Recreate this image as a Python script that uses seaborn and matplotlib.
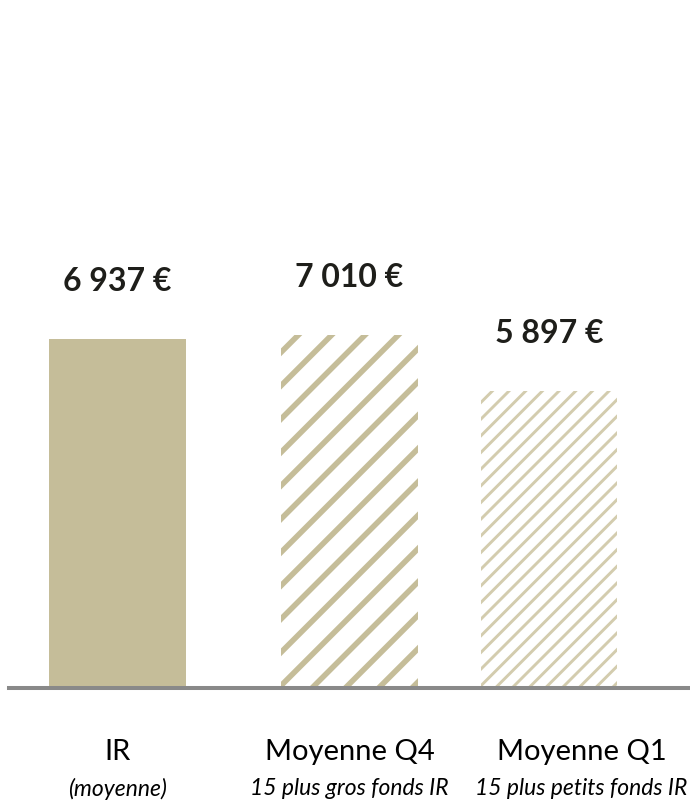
import matplotlib
matplotlib.use("Agg")
import matplotlib.pyplot as plt
import seaborn as sns

# Average values per group
categories = ["IR", "Moyenne Q4", "Moyenne Q1"]
subtitles = ["(moyenne)", "15 plus gros fonds IR", "15 plus petits fonds IR"]
values = [6937, 7010, 5897]
value_labels = ["6 937 €", "7 010 €", "5 897 €"]

# Layout: bar centres and label centres along the x axis
bar_pos = [0.0, 1.0, 1.86]
label_pos = [0.0, 1.0, 2.0]
bar_width = 0.59

TAN = "#c5bd99"
sns.set_theme(style="white")
plt.rcParams["font.family"] = ["Lato", "DejaVu Sans"]

fig = plt.figure(figsize=(6.9, 8.0), dpi=100)
ax = fig.add_axes([9 / 690, 112 / 800, 681 / 690, 688 / 800])

min_gap = min(b - a for a, b in zip(bar_pos[:-1], bar_pos[1:]))
sns.barplot(x=bar_pos, y=values, native_scale=True, width=bar_width / min_gap,
            color=TAN, saturation=1, ax=ax, errorbar=None)

styles = [
    dict(face=TAN, hatch=None, lw=0, col=TAN),
    dict(face="white", hatch="/", lw=4.0, col=TAN),
    dict(face="white", hatch="//", lw=2.1, col="#d3ccae"),
]
for patch, st in zip(ax.patches, styles):
    patch.set_facecolor(st["face"])
    patch.set_edgecolor(st["col"])
    patch.set_linewidth(0)
    if st["hatch"]:
        patch.set_hatch(st["hatch"])
        if hasattr(patch, "set_hatch_linewidth"):
            patch.set_hatch_linewidth(st["lw"])

# Value labels above bars
for x, v, lab in zip(bar_pos, values, value_labels):
    ax.annotate(lab, xy=(x, v), xytext=(0, 41.5), textcoords="offset points",
                ha="center", va="center", fontsize=23, fontweight="bold",
                color="#1e1e1a")

# Category labels below the axis
for x, cat, sub in zip(label_pos, categories, subtitles):
    ax.annotate(cat, xy=(x, 0), xycoords=("data", "axes fraction"),
                xytext=(0, -46), textcoords="offset points",
                ha="center", va="center", fontsize=21, color="black")
    ax.annotate(sub, xy=(x, 0), xycoords=("data", "axes fraction"),
                xytext=(0, -72.5), textcoords="offset points",
                ha="center", va="center", fontsize=16.5, style="italic",
                color="black")

ax.set_xlim(-0.468, 2.468)
ax.set_ylim(0, 13675)
ax.set_xticks([])
ax.set_yticks([])
ax.set_xlabel("")
ax.set_ylabel("")
for side in ["top", "left", "right"]:
    ax.spines[side].set_visible(False)
ax.spines["bottom"].set_color("#898989")
ax.spines["bottom"].set_linewidth(2.9)

fig.savefig("out.png", dpi=100, facecolor="white")
